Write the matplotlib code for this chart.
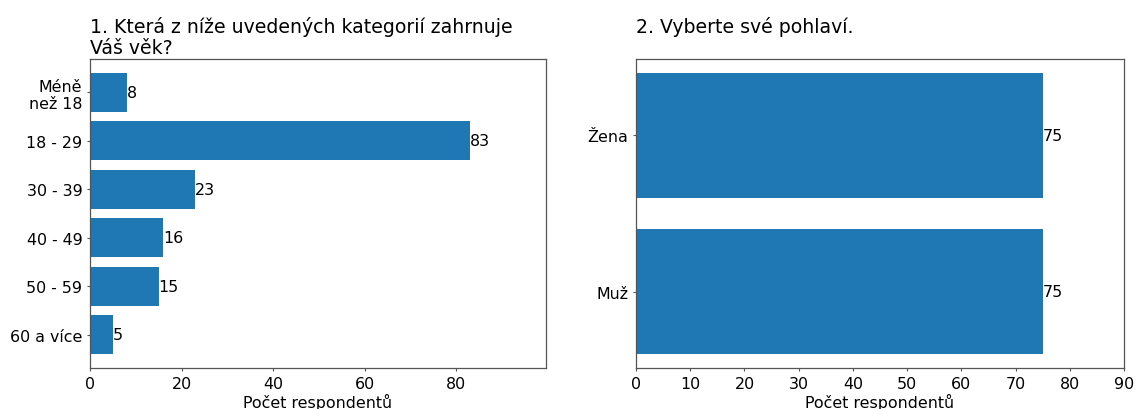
import matplotlib
matplotlib.use("Agg")
import matplotlib.pyplot as plt

age_categories = ["Méně\nnež 18", "18 - 29", "30 - 39", "40 - 49", "50 - 59", "60 a více"]
age_counts = [8, 83, 23, 16, 15, 5]
gender_categories = ["Žena", "Muž"]
gender_counts = [75, 75]

title1 = "1. Která z níže uvedených kategorií zahrnuje\nVáš věk?"
title2 = "2. Vyberte své pohlaví."
xlabel = "Počet respondentů"

color = "#1f77b4"
fs = 11.4
tfs = 13.6

fig = plt.figure(figsize=(11.36, 4.10), dpi=100)
ax1 = fig.add_axes([0.0792, 0.1000, 0.4014, 0.7536])
ax2 = fig.add_axes([0.5599, 0.1000, 0.4296, 0.7536])

title_x = [90 / 1136, 636 / 1136]
for ax, cats, vals, title, tx in [(ax1, age_categories, age_counts, title1, title_x[0]),
                                  (ax2, gender_categories, gender_counts, title2, title_x[1])]:
    pos = list(range(len(cats)))
    bars = ax.barh(pos, vals, height=0.8, color=color)
    ax.set_yticks(pos)
    ax.set_yticklabels(cats, fontsize=fs)
    ax.invert_yaxis()
    ax.set_xlim(0, max(vals) * 1.2)
    ax.tick_params(axis="both", labelsize=fs, length=2.5, width=0.8, color="#555555", pad=3)
    ax.set_xlabel(xlabel, fontsize=fs, labelpad=1.5)
    for s in ax.spines.values():
        s.set_color("#555555")
        s.set_linewidth(0.9)
    for b, v in zip(bars, vals):
        ax.text(b.get_width(), b.get_y() + b.get_height() / 2, str(v),
                ha="left", va="center", fontsize=fs)
    fig.text(tx, 1 - 17 / 410, title, fontsize=tfs, ha="left", va="top", linespacing=1.1)

ax1.set_xticks([0, 20, 40, 60, 80])
ax2.set_xticks(list(range(0, 91, 10)))

fig.savefig("out.png", dpi=100)
